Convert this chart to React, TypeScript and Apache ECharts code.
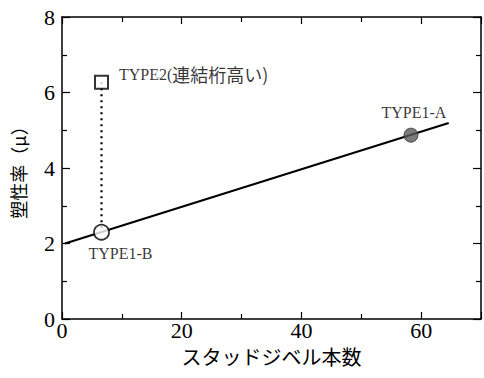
import React, { useEffect, useRef } from "react";
import * as echarts from "echarts";

// Trend line (スタッドジベル本数 vs 塑性率)
const trendX = [0.5, 64.6];
const trendY = [2.0, 5.19];

// Measured points
const pointNames = ["TYPE2(連結桁高い)", "TYPE1-B", "TYPE1-A"];
const pointX = [6.6, 6.6, 58.3];
const pointY = [6.27, 2.3, 4.87];

// Axis ticks
const xTicks = [0, 20, 40, 60];
const yTicks = [0, 2, 4, 6, 8];

const SERIF = "'Liberation Serif', 'DejaVu Serif', serif";
const CJK = "'Noto Sans CJK JP', 'Noto Sans', sans-serif";

export default function App() {
  const ref = useRef<HTMLDivElement>(null);
  useEffect(() => {
    if (!ref.current) return;
    const chart = echarts.init(ref.current, null, { renderer: "svg" });
    const tickStyle = { color: "#000", width: 1.2 };
    const axisLine = { show: true, onZero: false, lineStyle: { color: "#000", width: 1.5 } };
    const baseX = {
      type: "value" as const,
      min: xTicks[0],
      max: 70,
      interval: xTicks[1] - xTicks[0],
      axisLine,
      axisTick: { show: true, inside: true, length: 7, lineStyle: tickStyle },
      minorTick: { show: true, splitNumber: 2, length: 5, lineStyle: tickStyle },
      splitLine: { show: false },
    };
    const baseY = {
      type: "value" as const,
      min: yTicks[0],
      max: yTicks[yTicks.length - 1],
      interval: yTicks[1] - yTicks[0],
      axisLine,
      axisTick: { show: true, inside: true, length: 8, lineStyle: tickStyle },
      minorTick: { show: true, splitNumber: 2, length: 5, lineStyle: tickStyle },
      splitLine: { show: false },
    };
    const pts = pointNames.map((n, i) => [pointX[i], pointY[i]]);
    chart.setOption({
      animation: false,
      backgroundColor: "#fff",
      grid: { left: 62, right: 1, top: 17, bottom: 59 },
      xAxis: [
        {
          ...baseX,
          position: "bottom",
          axisLabel: {
            show: true,
            color: "#000",
            fontFamily: SERIF,
            fontSize: 22,
            margin: 0,
            formatter: (v: number) => (xTicks.includes(v) ? String(v) : ""),
          },
          name: "スタッドジベル本数",
          nameLocation: "middle",
          nameGap: 27,
          nameTextStyle: { color: "#000", fontFamily: CJK, fontSize: 20 },
        },
        { ...baseX, position: "top", axisLabel: { show: false } },
      ],
      yAxis: [
        {
          ...baseY,
          position: "left",
          axisLabel: {
            show: true,
            color: "#000",
            fontFamily: SERIF,
            fontSize: 22,
            margin: 7,
          },
          name: "塑性率（μ）",
          nameLocation: "middle",
          nameGap: 35,
          nameRotate: 90,
          nameTextStyle: { color: "#000", fontFamily: CJK, fontSize: 18 },
        },
        { ...baseY, position: "right", axisLabel: { show: false } },
      ],
      series: [
        {
          type: "line",
          data: trendX.map((x, i) => [x, trendY[i]]),
          symbol: "none",
          lineStyle: { color: "#000", width: 2 },
          z: 2,
        },
        {
          type: "line",
          data: [pts[0], pts[1]],
          symbol: "none",
          lineStyle: { color: "#000", width: 2.2, type: [2, 4] },
          z: 1,
        },
        {
          type: "scatter",
          data: [
            {
              value: pts[0],
              symbol: "rect",
              symbolSize: 13,
              itemStyle: { color: "#fff", borderColor: "#000", borderWidth: 2 },
              label: {
                show: true,
                position: "right",
                distance: 10,
                offset: [0, -8],
                formatter: "{a|TYPE2(}{b|連結桁高い)}",
                rich: {
                  a: { fontFamily: SERIF, fontSize: 16, color: "#000" },
                  b: { fontFamily: CJK, fontSize: 18, color: "#000" },
                },
              },
            },
            {
              value: pts[1],
              symbol: "circle",
              symbolSize: 15,
              itemStyle: { color: "#fff", borderColor: "#000", borderWidth: 1.8 },
              label: {
                show: true,
                position: "bottom",
                distance: 5,
                offset: [19, 0],
                formatter: pointNames[1],
                fontFamily: SERIF,
                fontSize: 16,
                color: "#000",
              },
            },
            {
              value: pts[2],
              symbol: "circle",
              symbolSize: 14,
              itemStyle: { color: "#5a5a5a", borderColor: "#333", borderWidth: 1 },
              label: {
                show: true,
                position: "top",
                distance: 7,
                offset: [3, 0],
                formatter: pointNames[2],
                fontFamily: SERIF,
                fontSize: 16,
                color: "#000",
              },
            },
          ],
          z: 3,
        },
      ],
    });
    return () => chart.dispose();
  }, []);
  return <div ref={ref} style={{ width: 484, height: 378, position: "absolute", left: 0, top: 0 }} />;
}
